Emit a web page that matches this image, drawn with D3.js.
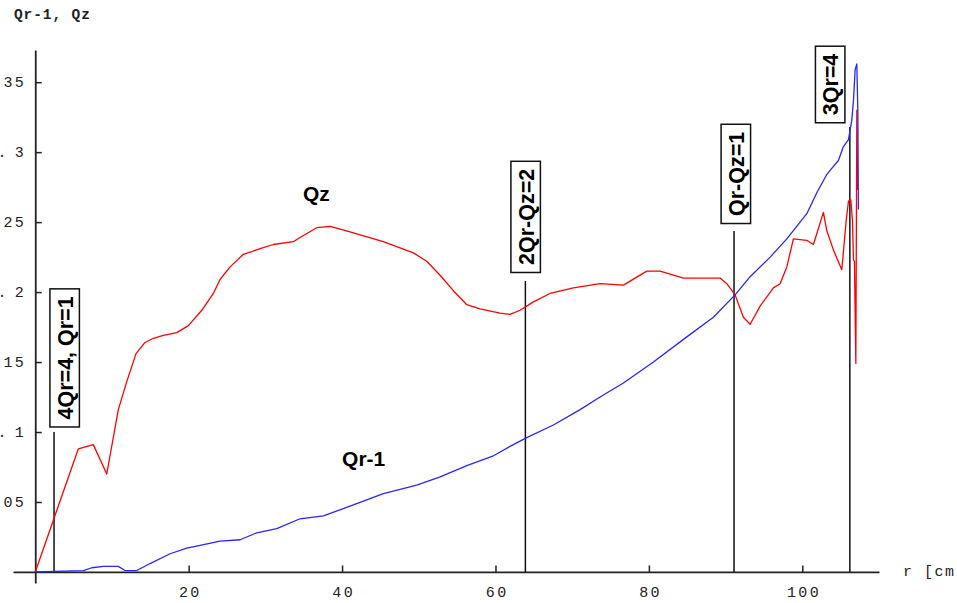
<!DOCTYPE html>
<html>
<head>
<meta charset="utf-8">
<script src="https://cdn.jsdelivr.net/npm/d3@7"></script>
<style>
  html, body { margin: 0; padding: 0; background: #fff; }
  svg { display: block; }
</style>
</head>
<body>
<svg id="chart" width="957" height="603"></svg>
<script>
// ---- Data ----
const qzR = [0, 2.36, 5.62, 7.57, 9.32, 10.83, 11.93, 13.14, 14.31, 15.40, 16.70, 18.45, 19.96, 21.71, 23.22, 24.09, 25.40, 27.13, 29.31, 31.04, 33.65, 34.52, 36.70, 38.44, 41.04, 45.38, 49.30, 51.04, 52.78, 54.51, 56.26, 57.99, 60.60, 61.90, 63.21, 64.94, 67.11, 70.16, 73.64, 76.68, 79.73, 81.46, 84.50, 89.28, 90.16, 91.24, 92.32, 93.20, 94.50, 96.23, 97.10, 97.98, 98.84, 100.59, 101.45, 102.75, 103.19, 104.06, 105.15, 105.72, 106.02, 106.33, 106.54, 106.67, 106.80, 106.98, 107.11, 107.21];
const qzVal = [0, 0.037, 0.088, 0.091, 0.070, 0.116, 0.136, 0.156, 0.164, 0.167, 0.169, 0.171, 0.176, 0.187, 0.199, 0.209, 0.218, 0.227, 0.231, 0.234, 0.236, 0.239, 0.246, 0.247, 0.243, 0.236, 0.228, 0.222, 0.212, 0.201, 0.191, 0.188, 0.185, 0.184, 0.187, 0.193, 0.199, 0.203, 0.206, 0.205, 0.215, 0.215, 0.210, 0.210, 0.206, 0.198, 0.182, 0.177, 0.190, 0.203, 0.206, 0.218, 0.238, 0.237, 0.234, 0.257, 0.244, 0.230, 0.216, 0.251, 0.265, 0.266, 0.251, 0.223, 0.222, 0.149, 0.330, 0.273];

const qrR = [0, 6.27, 7.37, 8.88, 10.83, 11.71, 13.23, 14.97, 17.58, 19.75, 21.49, 24.09, 26.70, 28.88, 31.49, 34.52, 37.56, 41.04, 45.38, 49.74, 52.78, 56.26, 59.73, 62.33, 64.08, 67.55, 71.03, 73.64, 76.68, 80.59, 84.94, 88.41, 91.24, 93.20, 95.81, 97.98, 100.59, 101.89, 103.19, 103.62, 104.71, 105.36, 106.02, 106.46, 106.67, 106.89, 107.11, 107.24, 107.31];
const qrVal = [0, 0.001, 0.003, 0.004, 0.004, 0.001, 0.001, 0.006, 0.013, 0.017, 0.019, 0.022, 0.023, 0.028, 0.031, 0.038, 0.040, 0.047, 0.056, 0.062, 0.068, 0.076, 0.083, 0.091, 0.096, 0.105, 0.116, 0.125, 0.135, 0.150, 0.168, 0.182, 0.198, 0.211, 0.225, 0.238, 0.256, 0.271, 0.284, 0.287, 0.294, 0.304, 0.309, 0.323, 0.337, 0.359, 0.363, 0.330, 0.259];

const xMajorTicks = [20, 40, 60, 80, 100];
const xTickLabels = ["20", "40", "60", "80", "100"];
const xMinorTicks = [5, 10, 15, 25, 30, 35, 45, 50, 55, 65, 70, 75, 85, 90, 95, 105, 110];
const yMajorTicks = [0.05, 0.1, 0.15, 0.2, 0.25, 0.3, 0.35];
const yTickLabels = ["0.05", "0.1", "0.15", "0.2", "0.25", "0.3", "0.35"];
const yMinorTicks = [0.01, 0.02, 0.03, 0.04, 0.06, 0.07, 0.08, 0.09, 0.11, 0.12, 0.13, 0.14, 0.16, 0.17, 0.18, 0.19, 0.21, 0.22, 0.23, 0.24, 0.26, 0.27, 0.28, 0.29, 0.31, 0.32, 0.33, 0.34, 0.36, 0.37];

const resR = [2.45, 63.9, 91.1, 106.2];
const resTop = [0.100, 0.208, 0.2436, 0.318];
const resText = ["4Qr=4, Qr=1", "2Qr-Qz=2", "Qr-Qz=1", "3Qr=4"];
const resLabelR = [3.9, 64.0, 91.4, 103.7];
const resLabelBottom = [0.1036, 0.214, 0.249, 0.321];

const curveNames = ["Qz", "Qr-1"];
const curveNameR = [34.9, 40.0];
const curveNameY = [0.265, 0.076];

const yTitle = "Qr-1, Qz";
const xTitle = "r [cm]";

// ---- Scales ----
const svg = d3.select("#chart");
const x = d3.scaleLinear().domain([-2.9, 110]).range([13, 879]);
const y = d3.scaleLinear().domain([-0.0079, 0.373]).range([583, 50]);

const monoFont = "'Liberation Mono', 'DejaVu Sans Mono', monospace";
const sansFont = "'Liberation Sans', Arial, sans-serif";
const axisColor = "#222";
const tickFS = 15;
const tickLS = 2.4; // wide character advance of the original tick labels

// ---- Axes ----
const gx = svg.append("g").attr("transform", `translate(0,${y(0)})`);
gx.call(d3.axisBottom(x).tickValues(xMinorTicks).tickSize(-4.5).tickSizeOuter(0).tickFormat(""));
gx.call(d3.axisBottom(x).tickValues(xMajorTicks).tickSize(-6.5).tickSizeOuter(0).tickPadding(14.5)
  .tickFormat((d, i) => xTickLabels[i]));
gx.selectAll(".domain").attr("stroke", axisColor).attr("stroke-width", 1.8);
gx.selectAll(".tick line").attr("stroke", axisColor).attr("stroke-width", 1.5);
gx.selectAll(".tick text").attr("font-family", monoFont).attr("font-size", tickFS)
  .attr("letter-spacing", tickLS).attr("dx", tickLS / 2).attr("fill", "#222");

const gy = svg.append("g").attr("transform", `translate(${x(0)},0)`);
gy.call(d3.axisLeft(y).tickValues(yMinorTicks).tickSize(-4.5).tickSizeOuter(0).tickFormat(""));
gy.call(d3.axisLeft(y).tickValues(yMajorTicks).tickSize(-6.5).tickSizeOuter(0).tickPadding(9)
  .tickFormat((d, i) => yTickLabels[i]));
gy.selectAll(".domain").attr("stroke", axisColor).attr("stroke-width", 1.8);
gy.selectAll(".tick line").attr("stroke", axisColor).attr("stroke-width", 1.5);
// split each y label so a single digit after the point sits a little apart, as in the original
gy.selectAll(".tick text").each(function () {
  const t = d3.select(this);
  const s = t.text();
  const k = s.indexOf(".") + 1;
  t.text(null);
  t.append("tspan").text(s.slice(0, k));
  t.append("tspan").attr("dx", s.length - k === 1 ? 6 : 0).text(s.slice(k));
}).attr("font-family", monoFont).attr("font-size", tickFS)
  .attr("letter-spacing", tickLS).attr("fill", "#222");

// Axis titles
svg.append("text").attr("x", 14).attr("y", 19).text(yTitle)
  .attr("font-family", monoFont).attr("font-size", 14.5).attr("font-weight", "bold")
  .attr("letter-spacing", 0.9).attr("fill", "#222");
svg.append("text").attr("x", 903).attr("y", y(0) + 4.5).text(xTitle)
  .attr("font-family", monoFont).attr("font-size", tickFS)
  .attr("letter-spacing", 1.5).attr("fill", "#222");

// ---- Resonance lines ----
resR.forEach((r, i) => {
  svg.append("line")
    .attr("x1", x(r)).attr("x2", x(r))
    .attr("y1", y(0)).attr("y2", y(resTop[i]))
    .attr("stroke", "#111").attr("stroke-width", 1.5);
});

// ---- Curves ----
const line = d3.line().x(d => x(d[0])).y(d => y(d[1]));
const qzData = qzR.map((r, i) => [r, qzVal[i]]);
const qrData = qrR.map((r, i) => [r, qrVal[i]]);

svg.append("path").datum(qzData).attr("d", line)
  .attr("fill", "none").attr("stroke", "#ff0000").attr("stroke-width", 1.3)
  .attr("stroke-linejoin", "round");
svg.append("path").datum(qrData).attr("d", line)
  .attr("fill", "none").attr("stroke", "#2626ff").attr("stroke-width", 1.3)
  .attr("stroke-linejoin", "round");

// ---- Boxed labels ----
resText.forEach((t, i) => {
  const g = svg.append("g")
    .attr("transform", `translate(${x(resLabelR[i])},${y(resLabelBottom[i])}) rotate(-90)`);
  const pad = 7.5;
  const fs = 21.5;
  const rect = g.append("rect");
  const txt = g.append("text").attr("x", pad).attr("y", 0).attr("dy", "0.36em")
    .text(t).attr("font-family", sansFont).attr("font-weight", "bold")
    .attr("font-size", fs).attr("fill", "#000");
  const w = txt.node().getComputedTextLength();
  const capHalf = fs * 0.36;
  rect.attr("x", 0).attr("y", -capHalf - 7.5)
    .attr("width", w + 2 * pad).attr("height", 2 * capHalf + 7.5 + 6.5)
    .attr("fill", "#fff").attr("stroke", "#111").attr("stroke-width", 1.5);
});

// ---- Curve names ----
curveNames.forEach((n, i) => {
  svg.append("text").attr("x", x(curveNameR[i])).attr("y", y(curveNameY[i]))
    .text(n).attr("font-family", sansFont).attr("font-weight", "bold")
    .attr("font-size", 21).attr("fill", "#000");
});
</script>
</body>
</html>
